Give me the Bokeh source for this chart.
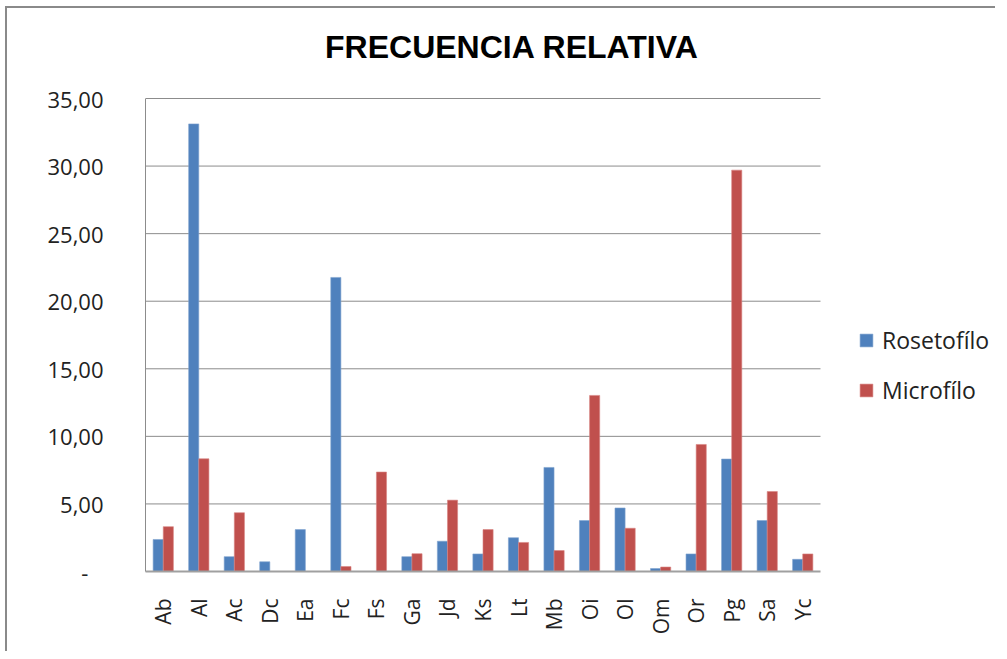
from bokeh.plotting import figure
from bokeh.models import (ColumnDataSource, Range1d, FixedTicker,
                          Legend, LegendItem, Label)
from bokeh.transform import dodge
from bokeh.embed import file_html
from bokeh.resources import INLINE

categories = ["Ab", "Al", "Ac", "Dc", "Ea", "Fc", "Fs", "Ga", "Jd", "Ks",
              "Lt", "Mb", "Oi", "Ol", "Om", "Or", "Pg", "Sa", "Yc"]
rosetofilo = [2.37, 33.12, 1.10, 0.72, 3.10, 21.76, 0.00, 1.10, 2.24, 1.30,
              2.50, 7.70, 3.77, 4.70, 0.22, 1.30, 8.32, 3.77, 0.90]
microfilo = [3.32, 8.34, 4.35, 0.00, 0.00, 0.37, 7.36, 1.32, 5.28, 3.10,
             2.15, 1.55, 13.03, 3.20, 0.33, 9.40, 29.70, 5.92, 1.30]
series_names = ["Rosetofílo", "Microfílo"]
y_ticks = [0, 5, 10, 15, 20, 25, 30, 35]
y_tick_labels = ["-\u00a0\u00a0\u2009", "5,00", "10,00", "15,00", "20,00",
                 "25,00", "30,00", "35,00"]
title_text = "FRECUENCIA RELATIVA"

BLUE = "#4F81BD"
RED = "#C0504D"
GRID = "#8c8c8c"
FONT = "Open Sans"

n = len(categories)
idx = list(range(n))
y_max = y_ticks[-1]
source = ColumnDataSource(data=dict(x=idx, cats=categories, roset=rosetofilo, micro=microfilo))

# layout (pixels): canvas size, space left of / below the value area,
# value area size; the frame extends to the right and top edges so that the
# title and legend can live inside it.
W, H = 990, 645
LEFT, BOTTOM = 138, 82
AREA_W, AREA_H, AREA_TOP = 675.0, 473.0, 90.0
cat_px = AREA_W / n
val_px = AREA_H / y_max
x_start = -0.5
x_end = x_start + (W - LEFT) / cat_px
cat_end = n - 0.5
y_end = y_max + AREA_TOP / val_px

p = figure(width=W, height=H, output_backend="svg", toolbar_location=None,
           x_range=Range1d(x_start, x_end), y_range=Range1d(0, y_end), title=None,
           min_border_left=LEFT, min_border_right=0,
           min_border_top=0, min_border_bottom=BOTTOM)
p.styles = {"margin-left": "5px", "margin-top": "6px",
            "border-left": "2px solid #8a8a8a", "border-top": "2px solid #8a8a8a"}

# title, centred over the chart, above the value area
p.add_layout(Label(x=x_start + 366.5 / cat_px, y=y_max + 52 / val_px,
                   text=title_text, text_align="center", text_baseline="alphabetic",
                   text_font="Liberation Sans", text_font_size="32px",
                   text_font_style="bold", text_color="black"))

# horizontal grid lines restricted to the value area
grid_src = ColumnDataSource(data=dict(y=y_ticks[1:]))
p.segment(x0=x_start, x1=cat_end, y0="y", y1="y", source=grid_src,
          line_color=GRID, line_width=1, level="underlay")

r1 = p.vbar(x=dodge("x", -0.1425), top="roset", width=0.285,
            source=source, fill_color=BLUE, line_color="#7fa3cf", line_width=0.6)
r2 = p.vbar(x=dodge("x", 0.1425), top="micro", width=0.285,
            source=source, fill_color=RED, line_color="#d98583", line_width=0.6)

p.outline_line_color = None
p.xgrid.grid_line_color = None
p.ygrid.grid_line_color = None

p.yaxis.ticker = FixedTicker(ticks=y_ticks)
p.yaxis.bounds = (0, y_max)
p.yaxis.major_label_overrides = {t_: l for t_, l in zip(y_ticks, y_tick_labels)}
p.yaxis.major_label_text_font = FONT
p.yaxis.major_label_text_font_size = "22px"
p.yaxis.major_label_text_color = "#222222"
p.yaxis.major_label_standoff = 36
p.yaxis.axis_line_color = GRID
p.yaxis.major_tick_line_color = None
p.yaxis.minor_tick_line_color = None

p.xaxis.ticker = FixedTicker(ticks=idx)
p.xaxis.major_label_overrides = {i: c for i, c in zip(idx, categories)}
p.xaxis.bounds = (x_start, cat_end)
p.xaxis.major_label_orientation = 1.5708
p.xaxis.major_label_text_font = FONT
p.xaxis.major_label_text_font_size = "21px"
p.xaxis.major_label_text_color = "#222222"
p.xaxis.major_label_standoff = 21
p.xaxis.axis_line_color = "#a0a0a0"
p.xaxis.axis_line_width = 2
p.xaxis.major_tick_line_color = None
p.xaxis.minor_tick_line_color = None

legend = Legend(items=[LegendItem(label=series_names[0], renderers=[r1]),
                       LegendItem(label=series_names[1], renderers=[r2])],
                location=(713, 165), border_line_color=None, background_fill_alpha=0,
                glyph_width=16, glyph_height=16, label_height=20, spacing=18,
                padding=10, margin=0, label_standoff=8,
                label_text_font=FONT, label_text_font_size="23px",
                label_text_color="#222222")
p.add_layout(legend, "center")

open("out.html", "w").write(file_html(p, INLINE))
